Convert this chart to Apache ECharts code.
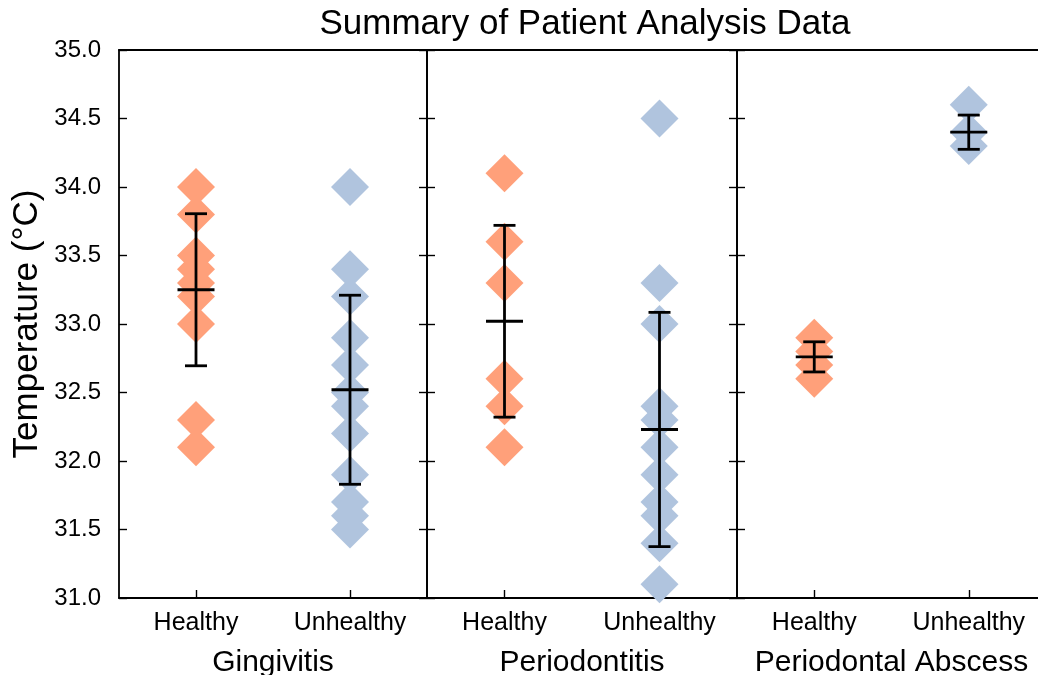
<!DOCTYPE html>
<html><head><meta charset="utf-8">
<script src="https://cdn.jsdelivr.net/npm/echarts@6/dist/echarts.min.js"></script>
<style>html,body{margin:0;padding:0;background:#fff}#c{width:1038px;height:675px}</style>
</head><body><div id="c"></div>
<script>
// ---- data ----
const categories = ['Healthy', 'Unhealthy'];
const groups = ['Gingivitis', 'Periodontitis', 'Periodontal Abscess'];
const yTickLabels = ['31.0', '31.5', '32.0', '32.5', '33.0', '33.5', '34.0', '34.5', '35.0'];

const gingivitisHealthy = [34.0, 33.8, 33.5, 33.4, 33.3, 33.2, 33.0, 32.3, 32.1];
const gingivitisUnhealthy = [34.0, 33.4, 33.2, 32.9, 32.7, 32.5, 32.4, 32.2, 31.9, 31.7, 31.6, 31.5];
const periodontitisHealthy = [34.1, 33.6, 33.3, 32.6, 32.4, 32.1];
const periodontitisUnhealthy = [34.5, 33.3, 33.0, 32.4, 32.3, 32.1, 31.9, 31.7, 31.6, 31.4, 31.1];
const abscessHealthy = [32.9, 32.8, 32.7, 32.6];
const abscessUnhealthy = [34.6, 34.4, 34.3];

// means and error (half-length of bar): [healthy, unhealthy]
const gingivitisMean = [33.25, 32.52];
const gingivitisErr = [0.555, 0.69];
const periodontitisMean = [33.02, 32.23];
const periodontitisErr = [0.70, 0.855];
const abscessMean = [32.76, 34.40];
const abscessErr = [0.11, 0.125];

const healthyColor = '#FFA07A';
const unhealthyColor = '#B0C4DE';
const FONT = 'Liberation Sans';

const pointSets = [
  [gingivitisHealthy, gingivitisUnhealthy],
  [periodontitisHealthy, periodontitisUnhealthy],
  [abscessHealthy, abscessUnhealthy]
];
const meanSets = [gingivitisMean, periodontitisMean, abscessMean];
const errSets = [gingivitisErr, periodontitisErr, abscessErr];

const gridDefs = [
  {left: 119, top: 50, width: 308, height: 548},
  {left: 427, top: 50, width: 310, height: 548},
  {left: 737, top: 50, width: 309, height: 548}
];

const grid = [], xAxis = [], yAxis = [], series = [];
gridDefs.forEach((g, i) => {
  grid.push(Object.assign({containLabel: false, outerBoundsMode: 'none'}, g));
  xAxis.push({
    type: 'category', gridIndex: i, data: categories, position: 'bottom',
    boundaryGap: true,
    axisLine: {lineStyle: {color: '#000', width: 1.8}},
    axisTick: {show: true, inside: true, alignWithLabel: true, length: 8, lineStyle: {color: '#000', width: 1.4}},
    axisLabel: {color: '#000', fontFamily: FONT, fontSize: 25, margin: 13},
    name: groups[i], nameLocation: 'middle', nameGap: 50,
    nameTextStyle: {color: '#000', fontFamily: FONT, fontSize: 30}
  });
  xAxis.push({
    type: 'category', gridIndex: i, data: categories, position: 'top',
    axisLine: {lineStyle: {color: '#000', width: 1.8}},
    axisTick: {show: false}, axisLabel: {show: false}
  });
  const yBase = {
    type: 'value', gridIndex: i, min: 31, max: 35, interval: 0.5,
    splitLine: {show: false},
    axisLine: {show: true, lineStyle: {color: '#000', width: 1.8}},
    axisTick: {show: true, inside: true, length: 8, lineStyle: {color: '#000', width: 1.4}}
  };
  yAxis.push(Object.assign({}, yBase, {
    position: 'left',
    axisLabel: {show: i === 0, color: '#000', fontFamily: FONT, fontSize: 24, margin: 18,
      formatter: v => yTickLabels[Math.round((v - 31) / 0.5)]},
    name: i === 0 ? 'Temperature (°C)' : '', nameLocation: 'middle', nameGap: 74, nameRotate: 90,
    nameTextStyle: {color: '#000', fontFamily: FONT, fontSize: 35}
  }));
  yAxis.push(Object.assign({}, yBase, {position: 'right', axisLabel: {show: false}}));

  pointSets[i].forEach((vals, c) => {
    series.push({
      type: 'scatter', xAxisIndex: 2 * i, yAxisIndex: 2 * i,
      symbol: 'diamond', symbolSize: [38, 38], clip: true,
      itemStyle: {color: c === 0 ? healthyColor : unhealthyColor, opacity: 1},
      data: vals.map(v => [c, v]), z: 2
    });
  });
  series.push({
    type: 'custom', xAxisIndex: 2 * i, yAxisIndex: 2 * i, z: 5,
    data: categories.map((_, c) => [c, meanSets[i][c], errSets[i][c]]),
    renderItem: (params, api) => {
      const x = api.value(0), m = api.value(1), e = api.value(2);
      const pm = api.coord([x, m]), pt = api.coord([x, m + e]), pb = api.coord([x, m - e]);
      const st = {stroke: '#000', lineWidth: 2.8, fill: null};
      const capW = 11, meanW = 18.5;
      return {type: 'group', children: [
        {type: 'line', shape: {x1: pm[0], y1: pt[1], x2: pm[0], y2: pb[1]}, style: st},
        {type: 'line', shape: {x1: pm[0] - capW, y1: pt[1], x2: pm[0] + capW, y2: pt[1]}, style: st},
        {type: 'line', shape: {x1: pm[0] - capW, y1: pb[1], x2: pm[0] + capW, y2: pb[1]}, style: st},
        {type: 'line', shape: {x1: pm[0] - meanW, y1: pm[1], x2: pm[0] + meanW, y2: pm[1]}, style: st}
      ]};
    }
  });
});

const chart = echarts.init(document.getElementById('c'), null, {renderer: 'canvas'});
chart.setOption({
  animation: false,
  backgroundColor: '#fff',
  title: {text: 'Summary of Patient Analysis Data', left: 580, top: 2, textAlign: 'center',
    textStyle: {color: '#000', fontFamily: FONT, fontSize: 35, fontWeight: 'normal'}},
  grid, xAxis, yAxis, series
});
</script></body></html>
